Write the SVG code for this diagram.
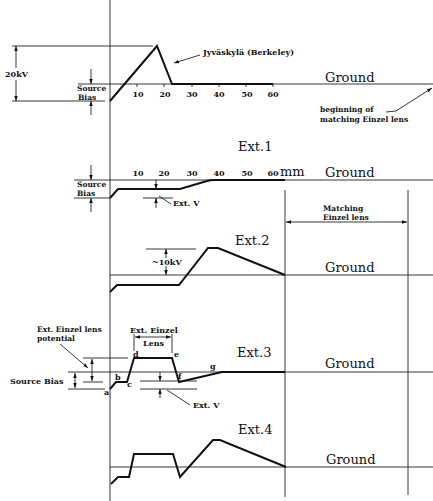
<svg xmlns="http://www.w3.org/2000/svg" width="433" height="501" viewBox="0 0 433 501">
<defs>
<marker id="ah" viewBox="0 0 10 10" refX="10" refY="5" markerWidth="5" markerHeight="5" orient="auto-start-reverse" markerUnits="userSpaceOnUse"><path d="M0,1.5 L10,5 L0,8.5 z" fill="#111"/></marker>
</defs>
<style>
.thin{stroke:#222;stroke-width:0.9;fill:none}
.axis{stroke:#333;stroke-width:1;fill:none}
.tr{stroke:#111;stroke-width:2;fill:none;stroke-linejoin:miter}
.arr{stroke:#222;stroke-width:0.9;fill:none;marker-end:url(#ah)}
.arr2{stroke:#222;stroke-width:0.9;fill:none;marker-end:url(#ah);marker-start:url(#ah)}
.big{font-family:"DejaVu Serif",serif;font-size:13px;fill:#111}
.sm{font-family:"DejaVu Serif",serif;font-size:8px;font-weight:bold;fill:#111}
.st{font-family:"DejaVu Serif",serif;font-size:7.5px;font-weight:bold;fill:#111}
.tk{font-family:"DejaVu Serif",serif;font-size:8px;font-weight:bold;fill:#111;text-anchor:middle}
</style>
<rect width="433" height="501" fill="#fff"/>

<g id="frame">
<line class="axis" x1="110" y1="0" x2="110" y2="501"/>
<line class="thin" x1="285" y1="190" x2="285" y2="497"/>
<line class="thin" x1="408" y1="190" x2="408" y2="495"/>
</g>

<g id="jyvaskyla">
<line class="thin" x1="12" y1="46" x2="153" y2="46"/>
<line class="thin" x1="78" y1="84" x2="433" y2="84"/>
<line class="thin" x1="12" y1="101" x2="105" y2="101"/>
<line class="arr" x1="16" y1="68" x2="16" y2="46"/>
<line class="arr" x1="16" y1="80" x2="16" y2="101"/>
<text class="sm" x="5" y="77">20kV</text>
<line class="arr" x1="91" y1="69" x2="91" y2="84"/>
<line class="arr" x1="91" y1="115" x2="91" y2="101"/>
<text class="st" x="77" y="91">Source</text>
<text class="st" x="78" y="100">Bias</text>
<polyline class="tr" points="110,101 157,46 172,84 273,84"/>
<g class="thin">
<line x1="137" y1="84" x2="137" y2="87"/><line x1="164" y1="84" x2="164" y2="87"/><line x1="192" y1="84" x2="192" y2="87"/>
<line x1="219" y1="84" x2="219" y2="87"/><line x1="246" y1="84" x2="246" y2="87"/><line x1="273" y1="84" x2="273" y2="87"/>
</g>
<text class="tk" x="138" y="97">10</text>
<text class="tk" x="165" y="97">20</text>
<text class="tk" x="192" y="97">30</text>
<text class="tk" x="219" y="97">40</text>
<text class="tk" x="247" y="97">50</text>
<text class="tk" x="273" y="97">60</text>
<text class="sm" x="203" y="55">Jyväskylä (Berkeley)</text>
<line class="arr" x1="200" y1="55" x2="174" y2="63"/>
<text class="big" x="325" y="82">Ground</text>
<text class="st" x="320" y="112">beginning of</text>
<text class="st" x="320" y="122">matching Einzel lens</text>
<path class="arr" d="M386,112 L396,111 L432,88"/>
</g>

<g id="ext1">
<text class="big" x="238" y="151">Ext.1</text>
<line class="thin" x1="74" y1="180" x2="433" y2="180"/>
<line class="thin" x1="74" y1="198" x2="110" y2="198"/>
<line class="arr" x1="91" y1="165" x2="91" y2="180"/>
<line class="arr" x1="91" y1="212" x2="91" y2="198"/>
<text class="st" x="77" y="187">Source</text>
<text class="st" x="77" y="196">Bias</text>
<path class="tr" d="M110,198 L118,189 L180,189 L207,181 Q210,180 214,180 L285,180"/>
<text class="tk" x="138" y="176">10</text>
<text class="tk" x="164" y="176">20</text>
<text class="tk" x="192" y="176">30</text>
<text class="tk" x="219" y="176">40</text>
<text class="tk" x="247" y="176">50</text>
<text class="tk" x="273" y="176">60</text>
<text class="big" x="280" y="176">mm</text>
<text class="big" x="325" y="177">Ground</text>
<line class="arr" x1="156" y1="180" x2="156" y2="189"/>
<line class="thin" x1="143" y1="198" x2="173" y2="198"/>
<line class="arr" x1="156" y1="208" x2="156" y2="198"/>
<line class="thin" x1="159" y1="196" x2="171" y2="204"/>
<text class="sm" x="173" y="206">Ext. V</text>
</g>

<g id="matching-lens">
<line class="arr2" x1="286" y1="222" x2="407" y2="222"/>
<text class="st" x="323" y="211">Matching</text>
<text class="st" x="323" y="220">Einzel lens</text>
</g>

<g id="ext2">
<text class="big" x="235" y="245">Ext.2</text>
<line class="thin" x1="110" y1="275" x2="433" y2="275"/>
<polyline class="tr" points="110,292 117,285 179,285 208,248 218,248 285,275"/>
<line class="thin" x1="146" y1="249" x2="196" y2="249"/>
<line class="arr" x1="166" y1="258" x2="166" y2="249"/>
<line class="arr" x1="166" y1="266" x2="166" y2="275"/>
<text class="sm" x="152" y="265">~10kV</text>
<text class="big" x="325" y="272">Ground</text>
</g>

<g id="ext3">
<text class="big" x="237" y="357">Ext.3</text>
<line class="thin" x1="68" y1="372" x2="433" y2="372"/>
<line class="thin" x1="68" y1="389" x2="105" y2="389"/>
<line class="arr2" x1="75" y1="373" x2="75" y2="388"/>
<text class="sm" x="10" y="384">Source Bias</text>
<line class="thin" x1="83" y1="358" x2="128" y2="358"/>
<line class="thin" x1="83" y1="382" x2="103" y2="382"/>
<line class="arr2" x1="92" y1="359" x2="92" y2="381"/>
<line class="arr" x1="60" y1="344" x2="88" y2="368"/>
<text class="st" x="37" y="332">Ext. Einzel lens</text>
<text class="st" x="37" y="341">potential</text>
<text class="sm" x="130" y="333">Ext. Einzel</text>
<line class="thin" x1="134" y1="334" x2="134" y2="351"/>
<line class="thin" x1="172" y1="334" x2="172" y2="353"/>
<line class="arr2" x1="135" y1="337" x2="171" y2="337"/>
<text class="sm" x="143" y="346">Lens</text>
<path class="tr" d="M110,389 L116,382 L127,382 L134,358 L172,358 L179,382 L222,372 L285,372"/>
<text class="sm" x="104" y="395">a</text>
<text class="sm" x="115" y="380">b</text>
<text class="sm" x="127" y="387">c</text>
<text class="sm" x="133" y="357">d</text>
<text class="sm" x="174" y="357">e</text>
<text class="sm" x="178" y="379">f</text>
<text class="sm" x="210" y="369">g</text>
<line class="thin" x1="140" y1="381" x2="197" y2="381"/>
<line class="thin" x1="140" y1="389" x2="197" y2="389"/>
<line class="arr" x1="160" y1="372" x2="160" y2="381"/>
<line class="arr" x1="160" y1="398" x2="160" y2="389"/>
<line class="thin" x1="167" y1="390" x2="190" y2="405"/>
<text class="sm" x="193" y="408">Ext. V</text>
<text class="big" x="325" y="368">Ground</text>
</g>

<g id="ext4">
<text class="big" x="238" y="434">Ext.4</text>
<line class="thin" x1="110" y1="467" x2="433" y2="467"/>
<polyline class="tr" points="111,484 118,477 129,477 134,454 173,454 180,477 213,440 220,440 286,467"/>
<text class="big" x="326" y="464">Ground</text>
</g>
</svg>
